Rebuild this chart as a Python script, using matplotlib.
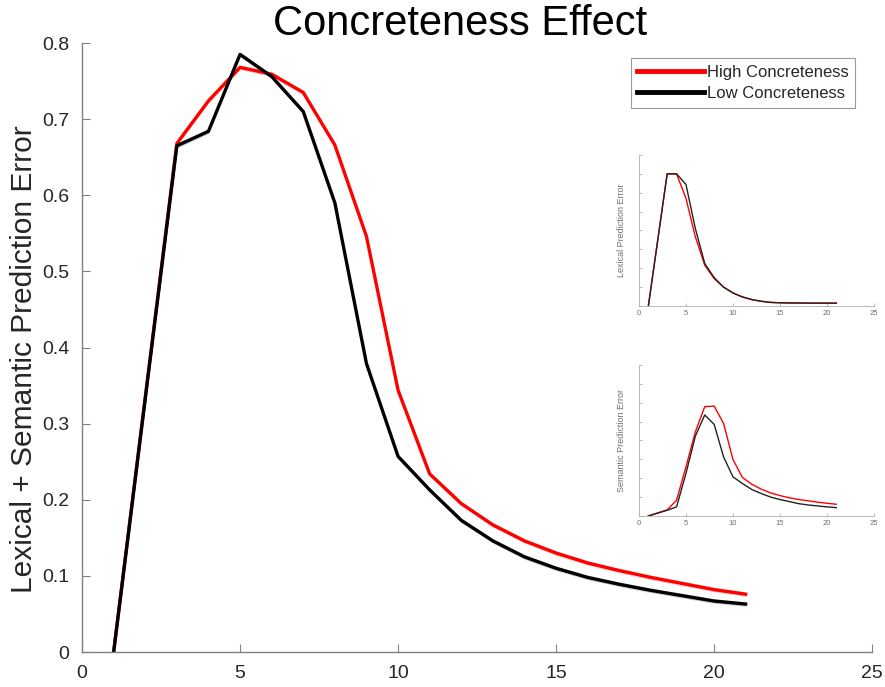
import numpy as np
import matplotlib
matplotlib.use("Agg")
import matplotlib.pyplot as plt

plt.rcParams['font.family'] = ['Liberation Sans', 'DejaVu Sans']

# word position
x_pos = np.arange(1, 22)

# main panel: lexical + semantic prediction error
high_total = [0.0, 0.334, 0.668, 0.724, 0.768, 0.759, 0.735, 0.666, 0.546, 0.344,
              0.234, 0.195, 0.167, 0.146, 0.130, 0.117, 0.107, 0.098, 0.090, 0.082, 0.076]
low_total = [0.0, 0.333, 0.665, 0.684, 0.785, 0.756, 0.710, 0.590, 0.379, 0.257,
             0.213, 0.173, 0.146, 0.125, 0.110, 0.098, 0.089, 0.081, 0.074, 0.067, 0.063]

# inset 1: lexical prediction error (arbitrary units, no tick labels)
high_lex = [0.0, 3.5, 7.0, 7.0, 5.7, 3.66, 2.16, 1.45, 1.0, 0.69, 0.48, 0.34,
            0.25, 0.19, 0.17, 0.16, 0.16, 0.15, 0.15, 0.15, 0.15]
low_lex = [0.0, 3.5, 7.0, 7.0, 6.44, 4.1, 2.25, 1.5, 1.0, 0.69, 0.48, 0.34,
           0.25, 0.19, 0.17, 0.16, 0.16, 0.15, 0.15, 0.15, 0.15]

# inset 2: semantic prediction error (arbitrary units)
high_sem = [0.0, 0.16, 0.32, 0.83, 2.6, 4.46, 5.79, 5.82, 4.9, 2.99, 2.04, 1.68,
            1.42, 1.22, 1.08, 0.96, 0.87, 0.80, 0.73, 0.67, 0.62]
low_sem = [0.0, 0.15, 0.30, 0.48, 2.25, 4.23, 5.35, 4.85, 3.13, 2.07, 1.72, 1.40,
           1.19, 1.00, 0.87, 0.76, 0.65, 0.58, 0.53, 0.48, 0.44]

RED = '#ff0000'
BLACK = '#000000'
AXC = '#808080'
TXT = '#262626'

fig = plt.figure(figsize=(8.85, 6.87), dpi=100)

# ---- main axes ----
ax = fig.add_axes([0.0927, 0.0509, 0.8927, 0.8865])
band = 0.003
ax.fill_between(x_pos, np.array(high_total) - band, np.array(high_total) + band,
                color=RED, alpha=0.2, lw=0)
ax.fill_between(x_pos, np.array(low_total) - band, np.array(low_total) + band,
                color=BLACK, alpha=0.2, lw=0)
ax.plot(x_pos, high_total, color=RED, lw=2.4, label='High Concreteness')
ax.plot(x_pos, low_total, color=BLACK, lw=2.4, label='Low Concreteness')

ax.set_xlim(0, 25)
ax.set_ylim(0, 0.8)
ax.set_xticks([0, 5, 10, 15, 20, 25])
ax.set_yticks([0, 0.1, 0.2, 0.3, 0.4, 0.5, 0.6, 0.7, 0.8])
ax.set_yticklabels(['0', '0.1', '0.2', '0.3', '0.4', '0.5', '0.6', '0.7', '0.8'])
for s in ['top', 'right']:
    ax.spines[s].set_visible(False)
for s in ['left', 'bottom']:
    ax.spines[s].set_color(AXC)
    ax.spines[s].set_linewidth(1.0)
ax.tick_params(direction='in', length=6, color=AXC, labelsize=14, labelcolor=TXT)
ax.tick_params(axis='y', pad=9)
ax.tick_params(axis='x', pad=9)
ax.set_ylabel('Lexical + Semantic Prediction Error', fontsize=21.5, color=TXT)
ax.yaxis.set_label_coords(-0.0557, 0.481)
fig.text(460 / 885, 1 - 24 / 687, 'Concreteness Effect', fontsize=30, color=BLACK,
         ha='center', va='center')

leg = ax.legend(loc='upper right', bbox_to_anchor=(855 / 885, 1 - 58 / 687),
                bbox_transform=fig.transFigure, fontsize=12,
                frameon=True, fancybox=False, handlelength=4.0, handletextpad=0.15,
                borderpad=0.4, labelspacing=0.4, borderaxespad=0.0)
leg.get_frame().set_edgecolor(AXC)
leg.get_frame().set_linewidth(0.8)
for t in leg.get_texts():
    t.set_color(TXT)
for line in leg.get_lines():
    line.set_linewidth(3.5)


def inset(rect, high, low, ylabel):
    a = fig.add_axes(rect)
    a.plot(x_pos, high, color=RED, lw=1.0)
    a.plot(x_pos, low, color='#222222', lw=1.0)
    a.set_xlim(0, 25)
    a.set_ylim(0, 8)
    a.set_xticks([0, 5, 10, 15, 20, 25])
    a.set_yticks(range(9))
    a.set_yticklabels([])
    for s in ['top', 'right']:
        a.spines[s].set_visible(False)
    for s in ['left', 'bottom']:
        a.spines[s].set_color('#b0b0b0')
        a.spines[s].set_linewidth(0.6)
    a.tick_params(direction='in', length=2, color='#b0b0b0', labelsize=5.5,
                  labelcolor='#707070', pad=3, width=0.6)
    a.set_ylabel(ylabel, fontsize=6.5, color='#707070', labelpad=6)
    return a


inset([0.722, 0.5546, 0.2655, 0.2198], high_lex, low_lex, 'Lexical Prediction Error')
inset([0.722, 0.249, 0.2655, 0.2198], high_sem, low_sem, 'Semantic Prediction Error')

fig.savefig('out.png', dpi=100)
